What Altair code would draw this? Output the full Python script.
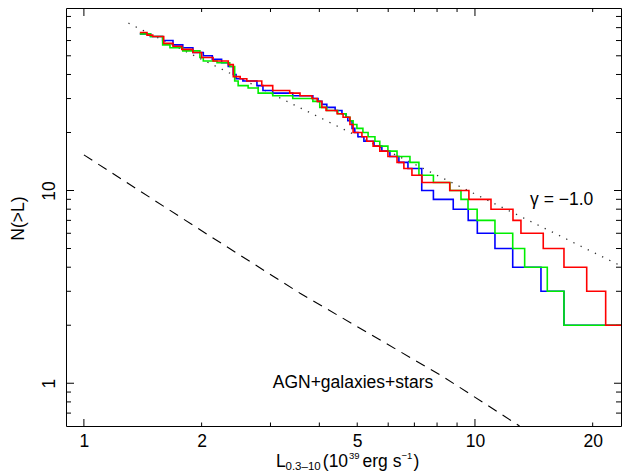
import altair as alt
import pandas as pd

# ---------------- data ----------------
red_L = [1.39, 1.45, 1.50, 1.60, 1.69, 1.78, 1.90, 2.00, 2.14, 2.34, 2.41, 2.51, 2.61, 2.85, 3.04,
         3.36, 3.57, 3.83, 3.95, 4.06, 4.16, 4.44, 4.60, 4.79, 4.88, 5.14, 5.29, 5.49, 5.71, 5.99,
         6.32, 6.58, 6.90, 7.32, 8.62, 9.65, 10.99, 12.51, 13.11, 14.95, 16.89, 19.31, 21.59, 30.0]
red_N = [66, 64, 63, 58, 56, 54, 52, 49, 47, 45, 39, 38, 37, 35, 33,
         32, 31, 30, 29, 27, 26, 25, 24, 22, 20, 19, 18, 17, 16, 15,
         14, 13, 12, 11, 10, 9, 8, 7, 6, 5, 4, 3, 2, 2]

blue_L = [1.39, 1.48, 1.59, 1.69, 1.79, 1.90, 2.02, 2.13, 2.25, 2.34, 2.41, 2.45, 2.55, 2.77, 2.87,
          3.04, 3.42, 3.85, 3.97, 4.06, 4.18, 4.39, 4.57, 4.68, 4.73, 4.85, 4.93, 5.02, 5.20, 5.52,
          5.78, 6.06, 6.39, 6.74, 7.31, 7.83, 8.80, 9.61, 10.14, 11.25, 12.49, 14.75, 16.89, 30.0]
blue_N = [65, 63, 60, 57, 55, 52, 50, 48, 46, 44, 40, 38, 37, 35, 33,
          32, 31, 30, 29, 28, 27, 26, 25, 24, 23, 21, 20, 19, 18, 17,
          16, 15, 14, 13, 10, 9, 8, 7, 6, 5, 4, 3, 2, 2]

green_L = [1.39, 1.48, 1.59, 1.66, 1.79, 1.98, 2.02, 2.19, 2.36, 2.43, 2.48, 2.63, 2.79, 3.04, 3.42,
           3.85, 4.01, 4.18, 4.46, 4.68, 4.79, 4.88, 4.99, 5.17, 5.33, 5.55, 5.71, 5.99, 6.32, 6.82,
           7.19, 7.83, 8.63, 9.21, 9.60, 10.13, 11.25, 12.49, 13.40, 15.31, 16.89, 30.0]
green_N = [65, 63, 57, 55, 53, 49, 47, 46, 44, 37, 35, 34, 32, 31, 30,
           29, 27, 26, 25, 24, 23, 22, 21, 20, 19, 18, 17, 16, 15, 14,
           12, 11, 10, 9, 8, 7, 6, 5, 4, 3, 2, 2]

# gamma = -1 power law (dotted) and AGN+galaxies+stars background (dashed)
dot_L = [1.30, 24.6]
dot_N = [73.8, 3.90]
dash_L = [1.0, 2.06, 3.57, 8.30, 13.0]
dash_N = [15.3, 5.95, 2.93, 1.08, 0.60]

# tick values and labels
x_labels = [1, 2, 5, 10, 20]
y_labels = [1, 10]
x_major = [1, 10]
x_minor = [2, 3, 4, 5, 6, 7, 8, 9, 20]
y_major = [1, 10]
y_minor = [0.7, 0.8, 0.9, 2, 3, 4, 5, 6, 7, 8, 9, 20, 30, 40, 50, 60, 70, 80]

# annotations (anchored in data coordinates)
gamma_text = ["γ = −1.0"]
gamma_L = [13.83]
gamma_N = [8.42]
agn_text = ["AGN+galaxies+stars"]
agn_L = [3.04]
agn_N = [0.942]

# ---------------- chart ----------------
W, H = 555, 418
FONT = "Liberation Sans"
FS = 17.5

xs = alt.Scale(type="log", domain=[0.9, 23.63], nice=False)
ys = alt.Scale(type="log", domain=[0.6, 88.5], nice=False)

x_axis = alt.Axis(values=x_labels, format="d", ticks=False, tickSize=0, domain=False, grid=False,
                  labelFont=FONT, labelFontSize=FS, labelColor="black", labelPadding=6,
                  labelOverlap=False, labelFlush=False, title=None)
y_axis = alt.Axis(values=y_labels, format="d", ticks=False, tickSize=0, domain=False, grid=False,
                  labelFont=FONT, labelFontSize=FS, labelColor="black", labelAngle=-90,
                  labelAlign="center", labelBaseline="alphabetic", labelPadding=12,
                  labelOverlap=False, labelFlush=False,
                  title="N(>L)", titleFont=FONT, titleFontSize=FS, titleFontWeight="normal",
                  titleColor="black", titleAngle=-90, titleAlign="center",
                  titleBaseline="alphabetic", titleX=-42.5, titleY=210)


def X(field):
    return alt.X(field, type="quantitative", scale=xs, axis=x_axis)


def Y(field):
    return alt.Y(field, type="quantitative", scale=ys, axis=y_axis)


def step(L, N, color):
    df = pd.DataFrame({"L": L, "N": N})
    return alt.Chart(df).mark_line(interpolate="step-after", color=color, strokeWidth=1.6,
                                   clip=True).encode(x=X("L"), y=Y("N"))


layers = []


# frame ticks (inward on all four sides)
def xticks(vals, y0, y1):
    return alt.Chart(pd.DataFrame({"v": vals})).mark_rule(color="black", strokeWidth=1).encode(
        x=X("v"), y=alt.value(y0), y2=alt.value(y1))


def yticks(vals, x0, x1):
    return alt.Chart(pd.DataFrame({"v": vals})).mark_rule(color="black", strokeWidth=1).encode(
        y=Y("v"), x=alt.value(x0), x2=alt.value(x1))


layers += [
    xticks(x_major, H, H - 7), xticks(x_minor, H, H - 3.5),
    xticks(x_major, 0, 8), xticks(x_minor, 0, 4),
    yticks(y_major, 0, 8), yticks(y_minor, 0, 5),
    yticks(y_major, W, W - 7), yticks(y_minor, W, W - 5),
]

# reference lines
layers.append(alt.Chart(pd.DataFrame({"L": dot_L, "N": dot_N})).mark_line(
    color="#333333", strokeWidth=1.3, strokeDash=[1.3, 6.7], clip=True).encode(x=X("L"), y=Y("N")))
layers.append(alt.Chart(pd.DataFrame({"L": dash_L, "N": dash_N})).mark_line(
    color="black", strokeWidth=1.1, strokeDash=[10, 7], clip=True).encode(x=X("L"), y=Y("N")))

# step curves
layers.append(step(blue_L, blue_N, "#0000ff"))
layers.append(step(green_L, green_N, "#00ee00"))
layers.append(step(red_L, red_N, "#ff0000"))

# annotations
layers.append(alt.Chart(pd.DataFrame({"L": gamma_L, "N": gamma_N, "t": gamma_text})).mark_text(
    align="left", baseline="alphabetic", font=FONT, fontSize=FS, color="black").encode(
    x=X("L"), y=Y("N"), text="t:N"))
layers.append(alt.Chart(pd.DataFrame({"L": agn_L, "N": agn_N, "t": agn_text})).mark_text(
    align="left", baseline="alphabetic", font=FONT, fontSize=FS, color="black").encode(
    x=X("L"), y=Y("N"), text="t:N"))


# x-axis title with sub/superscripts
def piece(txt, x, y, size):
    return alt.Chart(pd.DataFrame({"t": [txt]})).mark_text(
        align="left", baseline="alphabetic", font=FONT, fontSize=size, color="black").encode(
        x=alt.value(x), y=alt.value(y), text="t:N")


SUB = 11.5
SUP = 9.5
layers += [
    piece("L", 210, 458.7, FS),
    piece("0.3–10", 219.5, 462, SUB),
    piece("(10", 256.8, 458.7, FS),
    piece("39", 283, 451.3, SUP),
    piece("erg s", 296.5, 458.7, FS),
    piece("−1", 335.5, 451.3, SUP),
    piece(")", 347.5, 458.7, FS),
]

chart = alt.layer(*layers).properties(
    width=W, height=H,
    autosize=alt.AutoSizeParams(type="none"),
    padding={"left": 58, "top": 0, "right": 1, "bottom": 46},
    background="white",
).configure_view(stroke="black", strokeWidth=1)

chart.save("out.html", embed_options={"renderer": "svg", "actions": False})
